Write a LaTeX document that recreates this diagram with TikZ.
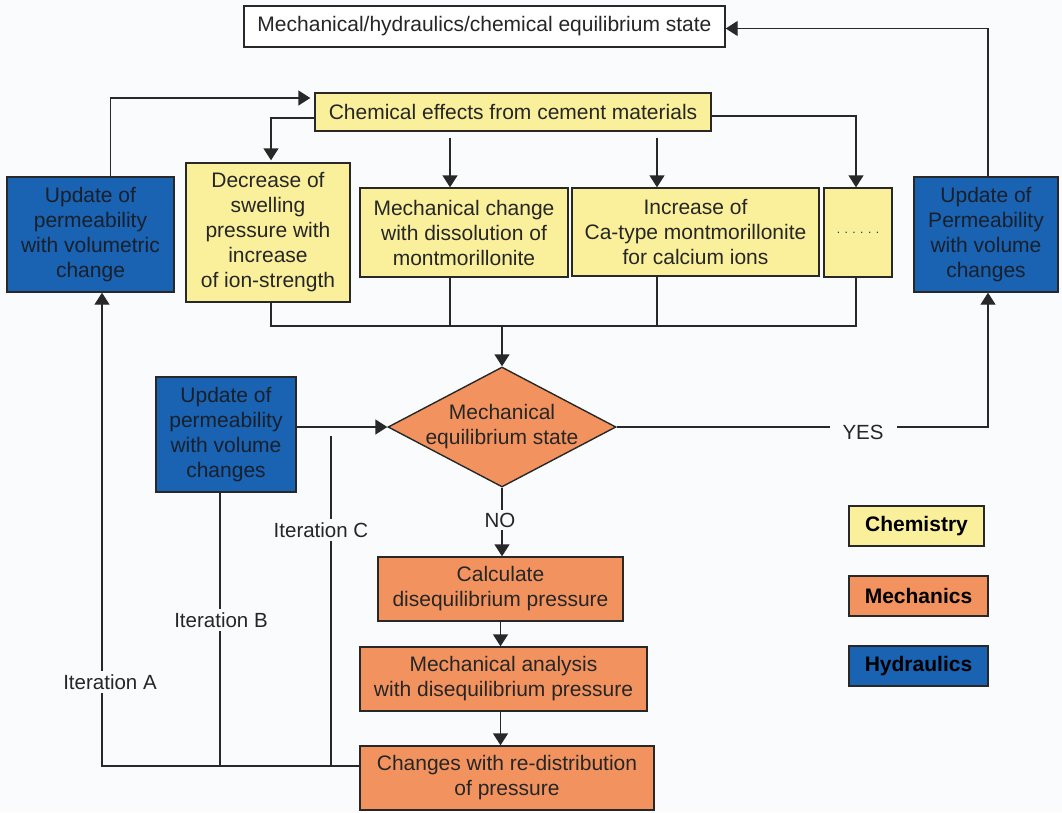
\documentclass[tikz,border=0pt]{standalone}
\usepackage{fontspec}
\setmainfont{Liberation Sans}
\usetikzlibrary{arrows.meta,shapes.geometric,calc}
\definecolor{bg}{HTML}{FAFBFD}
\definecolor{chemY}{HTML}{FAF09B}
\definecolor{mechO}{HTML}{F2935F}
\definecolor{hydB}{HTML}{1A62B2}
\definecolor{lineC}{HTML}{282828}
\definecolor{txtC}{HTML}{262626}
\definecolor{hydT}{HTML}{18202C}
\begin{document}
\begin{tikzpicture}[x=1pt,y=-1pt,
  box/.style={draw=lineC, line width=1.4pt, align=center, inner sep=0pt, text=txtC, font=\fontsize{21}{25}\selectfont},
  chembox/.style={box, fill=chemY},
  mechbox/.style={box, fill=mechO},
  hydbox/.style={box, fill=hydB, text=hydT},
  legendtxt/.style={text=black, font=\bfseries\fontsize{21}{25}\selectfont},
  lbl/.style={fill=bg, inner sep=3pt, text=txtC, font=\fontsize{20.5}{24}\selectfont},
  conn/.style={draw=lineC, line width=1.4pt},
  arr/.style={conn, -{Triangle[width=15pt,length=12pt]}},
]
\fill[bg] (0,0) rectangle (1062,812);
\useasboundingbox (0,0) rectangle (1062,812);

% nodes
\node[box, fill=white, minimum width=481pt, minimum height=41pt] (top) at (484.5,26.5) {Mechanical/hydraulics/chemical equilibrium state};
\node[chembox, minimum width=396pt, minimum height=38pt] (chem) at (513,112) {Chemical effects from cement materials};
\node[chembox, minimum width=164pt, minimum height=139pt] (dec) at (268,232.5) {Decrease of\\swelling\\pressure with\\increase\\of ion-strength};
\node[chembox, minimum width=208pt, minimum height=89pt] (mc) at (464,232.5) {Mechanical change\\with dissolution of\\montmorillonite};
\node[chembox, minimum width=247pt, minimum height=88pt] (inc) at (695.5,232) {Increase of\\Ca-type montmorillonite\\for calcium ions};
\node[chembox, minimum width=68pt, minimum height=89pt, font=\fontsize{12}{14}\selectfont, text=teal!50!black] (dots) at (858,232.5) {. . . . . .};
\node[hydbox, minimum width=167pt, minimum height=115pt] (lb) at (90.5,234.5) {Update of\\permeability\\with volumetric\\change};
\node[hydbox, minimum width=144pt, minimum height=115pt] (rb) at (986,234.5) {Update of\\Permeability\\with volume\\changes};
\node[hydbox, minimum width=140pt, minimum height=115pt] (mb) at (226,434.5) {Update of\\permeability\\with volume\\changes};
\node[diamond, draw=lineC, line width=1.4pt, fill=mechO, minimum width=228pt, minimum height=120pt, inner sep=0pt] (dia) at (502,427) {};
\node[align=center, text=txtC, font=\fontsize{21}{25}\selectfont, inner sep=0pt] (diatxt) at (dia) {Mechanical\\equilibrium state};
\node[mechbox, minimum width=245pt, minimum height=64pt] (calc) at (500.5,589) {Calculate\\disequilibrium pressure};
\node[mechbox, minimum width=287pt, minimum height=64pt] (ma) at (503.5,679) {Mechanical analysis\\with disequilibrium pressure};
\node[mechbox, minimum width=294pt, minimum height=64pt] (chg) at (507,778) {Changes with re-distribution\\of pressure};

% legend
\node[chembox, legendtxt, minimum width=135pt, minimum height=40pt] (lc) at (916.5,526) {Chemistry};
\node[mechbox, legendtxt, minimum width=139pt, minimum height=40pt] (lm) at (918.5,596) {Mechanics};
\node[hydbox, legendtxt, minimum width=139pt, minimum height=40pt] (lh) at (918.5,666) {Hydraulics};

% helper coordinates
\coordinate (xmc) at (450,0);
\coordinate (xinc) at (657,0);
\coordinate (xc) at (331,0);
\coordinate (jy) at (0,326);
\coordinate (hl) at ([yshift=12pt]chg.west);

% connectors
\draw[arr] ([xshift=2pt]rb.north) |- ([yshift=-2pt]top.east);
\draw[arr, shorten >=4pt] ([xshift=20pt]lb.north) |- ([yshift=14pt]chem.west);
\draw[arr, shorten >=2pt] ([yshift=-6pt]chem.west) -| ([xshift=3pt]dec.north);
\draw[arr, shorten <=6pt] (chem.south -| xmc) -- (mc.north -| xmc);
\draw[arr, shorten <=6pt] (chem.south -| xinc) -- (inc.north -| xinc);
\draw[arr] ([yshift=-4pt]chem.east) -| ([xshift=-2pt]dots.north);

\draw[conn] ([xshift=3pt]dec.south) |- ([xshift=-2pt]dots.south |- jy) -- ([xshift=-2pt]dots.south);
\draw[conn] (mc.south -| xmc) -- (xmc |- jy);
\draw[conn] (inc.south -| xinc) -- (xinc |- jy);
\draw[arr] (dia.north |- jy) -- (dia.north);

\draw[arr] (mb.east |- dia.west) -- (dia.west);
\draw[arr] (dia.east) -| ([xshift=2pt]rb.south);
\draw[arr] (dia.south) -- (dia.south |- calc.north);
\draw[arr] (calc.south) -- (calc.south |- ma.north);
\draw[arr] (ma.south -| calc.south) -- (calc.south |- chg.north);

\draw[arr] (hl) -| ([xshift=11.5pt]lb.south);
\draw[conn] ([xshift=-6pt]mb.south) -- ([xshift=-6pt]mb.south |- hl);
\draw[conn] (xc |- hl) -- ($(xc |- dia.west)+(0,9)$);

% labels
\node[lbl, inner xsep=13pt] (yes) at (863,432) {YES};
\node[lbl] (no) at (500,520) {NO};
\node[lbl] (ita) at (110,682) {Iteration A};
\node[lbl] (itb) at (221,620) {Iteration B};
\node[lbl] (itc) at (321,530) {Iteration C};
\end{tikzpicture}
\end{document}
